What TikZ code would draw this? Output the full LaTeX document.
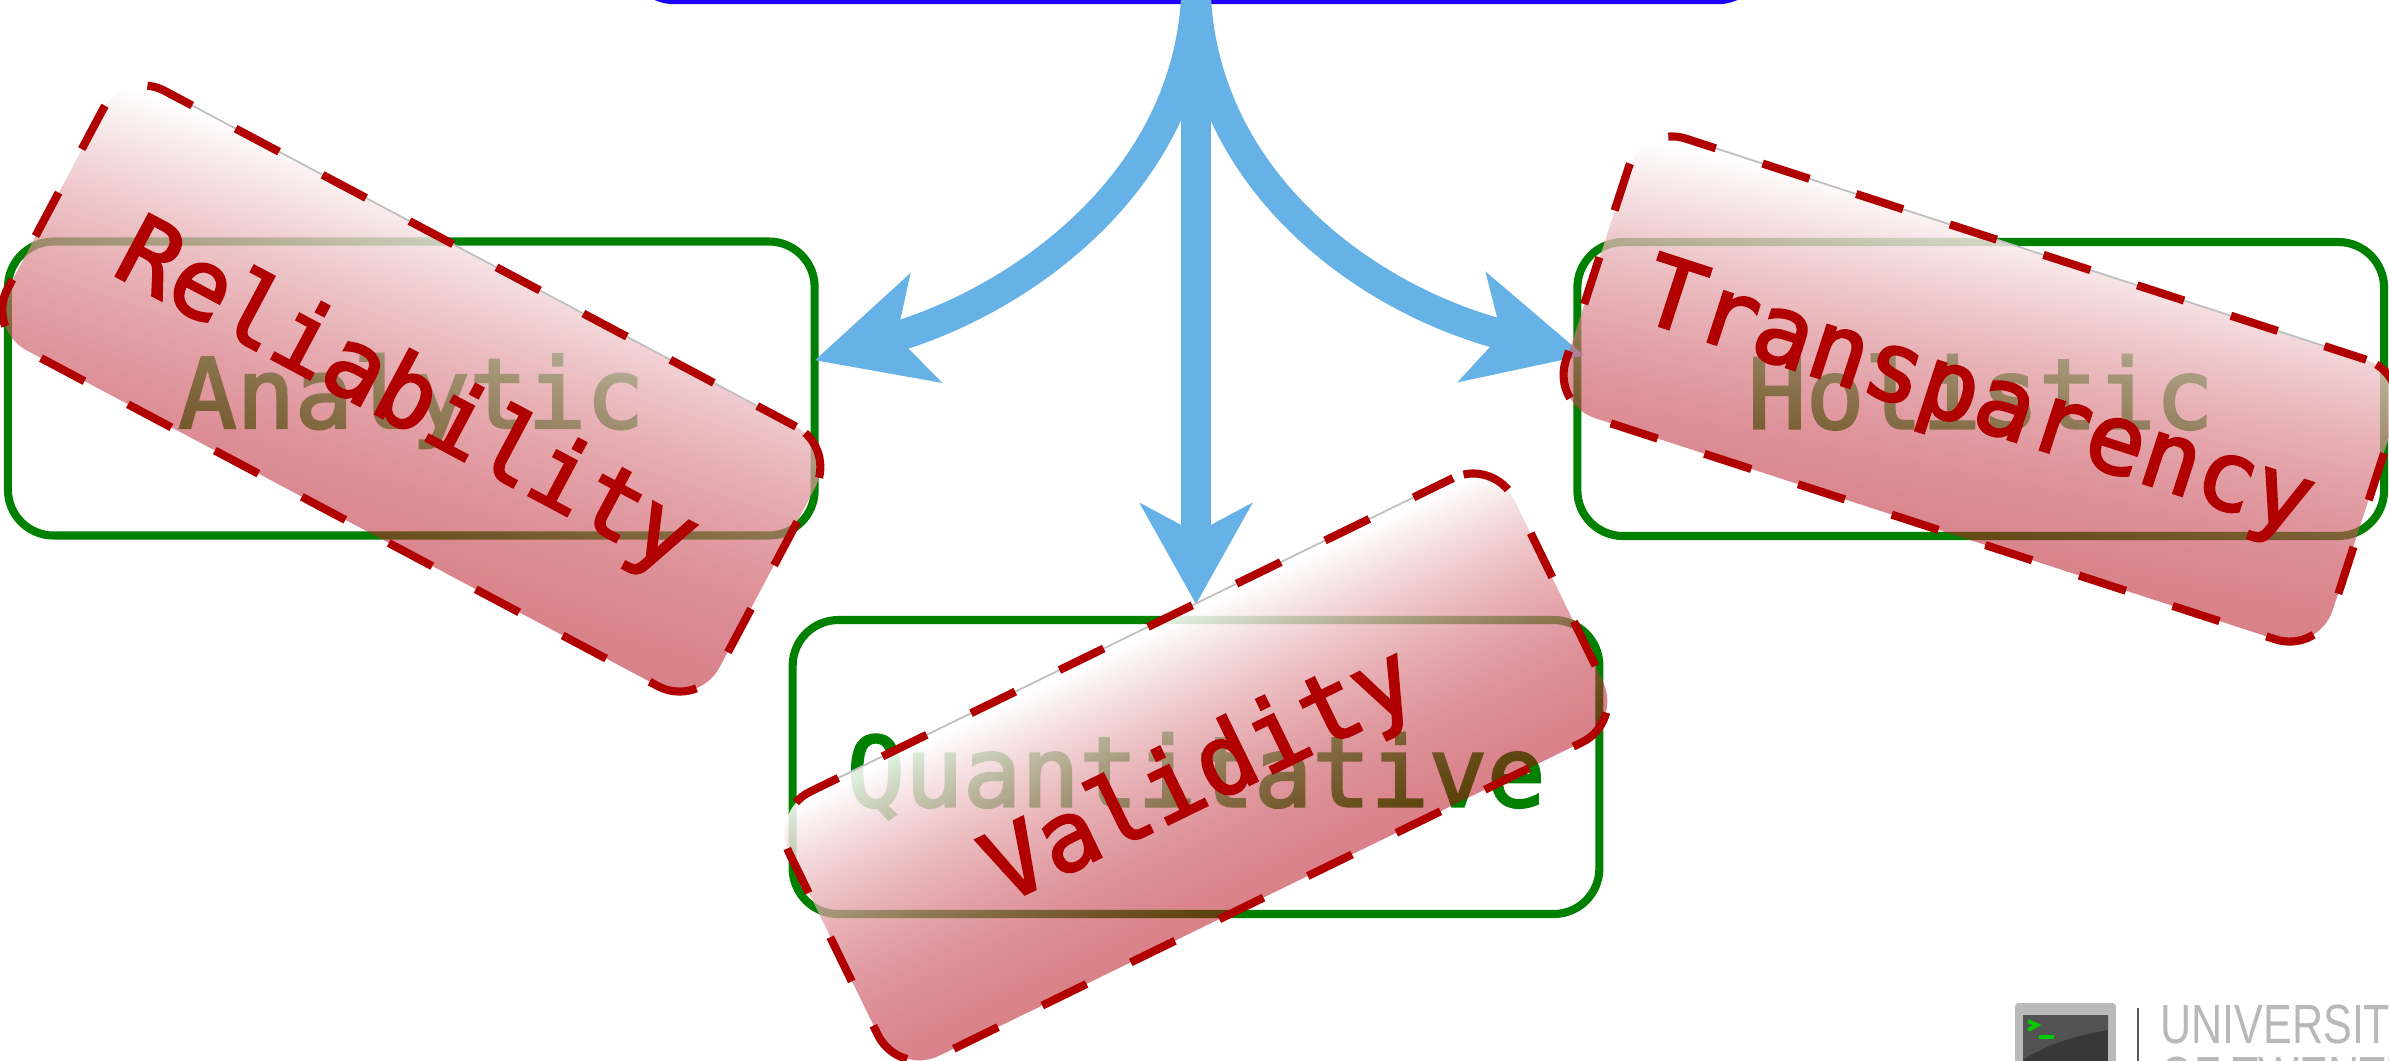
\documentclass[tikz,border=0pt]{standalone}
\usepackage{fontspec}
\setmainfont{DejaVu Sans Mono}[FakeBold=2.6]
\newfontfamily\logofont{Liberation Sans}
\usetikzlibrary{arrows.meta,fadings,calc}
\definecolor{boxgreen}{RGB}{0,128,0}
\definecolor{boxred}{RGB}{176,0,0}
\definecolor{fillred}{RGB}{178,1,17}
\definecolor{flowblue}{RGB}{102,178,230}
\definecolor{srcblue}{RGB}{28,0,255}
% gradient colour and fading for each red box: #1 name, #2 low stop, #3 high stop
\newcommand{\redgradient}[3]{%
  \pgfdeclareverticalshading{#1shade}{100bp}{color(0bp)=(fillred); color(#2bp)=(fillred); color(#3bp)=(white); color(100bp)=(white)}%
  \pgfdeclareverticalshading{#1alpha}{100bp}{color(0bp)=(transparent!50); color(#2bp)=(transparent!50); color(#3bp)=(transparent!12); color(100bp)=(transparent!12)}%
  \pgfdeclarefading{#1fade}{\pgfuseshading{#1alpha}}%
}
\redgradient{rel}{41.5}{58.5}
\redgradient{val}{43.9}{56.1}
\redgradient{tra}{42.3}{57.7}
% #1 name, #2 centre x, #3 centre y, #4 node rotation, #5 shading angle
\newcommand{\redfill}[5]{%
  \begin{scope}
    \clip[rotate around={#4:(#2,#3)}, rounded corners=13pt] (#2-403.1,#3-146.9) rectangle (#2+403.1,#3+146.9);
    \shade[shading=#1shade, shading angle=#5, path fading=#1fade, fading angle=#5] (#2-600,#3-600) rectangle (#2+600,#3+600);
  \end{scope}%
}
\tikzset{
  gbox/.style={draw=boxgreen, line width=2.3pt, rounded corners=13pt, minimum width=229.4pt, minimum height=83.6pt, text=boxgreen, font=\fontsize{27.5}{30}\selectfont, inner sep=0pt, outer sep=0pt, text height=22.4pt, text depth=0pt},
  rbox/.style={gbox, draw=boxred, text=boxred, dash pattern=on 14pt off 14pt, dash phase=1.5pt},
  rbase/.style={minimum width=229.4pt, minimum height=83.6pt, inner sep=0pt, outer sep=0pt},
  flow/.style={draw=flowblue, line width=8.6pt, -{Stealth[length=28.5pt,width=31.5pt,inset=8.25pt]}},
  curveflow/.style={draw=flowblue, line width=8.6pt, -{Stealth[length=32.5pt,width=31.5pt,inset=8.25pt]}},
  edgehint/.style={draw=black!25, line width=0.5pt},
  logotext/.style={text=black!28, font=\logofont\fontsize{15.7}{18}\selectfont, anchor=base west, inner sep=0pt, xscale=.78},
}
\begin{document}
\begin{tikzpicture}[x=0.01cm,y=-0.01cm]
\useasboundingbox (0,0) rectangle (2389,1060);
\clip (0,0) rectangle (2389,1060);
% source box (mostly beyond the top edge)
\node[draw=srcblue, line width=2.3pt, rounded corners=13pt, minimum width=322.6pt, minimum height=85.4pt, inner sep=0pt, outer sep=0pt] (source) at (1196,-150) {};
% green boxes
\node[gbox] (analytic) at (411.3,388.5) {Analytic};
\node[gbox] (quant) at (1196,767) {Quantitative};
\node[gbox] (holistic) at (1980.7,389) {Holistic};
% arrows
\draw[curveflow] (source.south) .. controls (1185,182) and (1023,300) .. (analytic.4.75);
\draw[curveflow,shorten >=-2pt] (source.south) .. controls (1207,182) and (1365,300) .. (holistic.175.7);
\draw[flow,shorten >=4.5pt] (source.south) -- (quant.north);
% red overlays: gradient fill, thin top edge, then dashed outline with text
\redfill{rel}{411.3}{388.5}{-28}{-18}
\redfill{val}{1196}{767}{26}{26}
\redfill{tra}{1980.7}{389}{-18}{-11}
\node[rbase,rotate=-28] (reliabilitybase) at (411.3,388.5) {};
\node[rbase,rotate=26] (validitybase) at (1196,767) {};
\node[rbase,rotate=-18] (transparencybase) at (1980.7,389) {};
\draw[edgehint] ($(reliabilitybase.north west)!.06!(reliabilitybase.north east)$) -- ($(reliabilitybase.north west)!.94!(reliabilitybase.north east)$);
\draw[edgehint] ($(validitybase.north west)!.06!(validitybase.north east)$) -- ($(validitybase.north west)!.94!(validitybase.north east)$);
\draw[edgehint] ($(transparencybase.north west)!.06!(transparencybase.north east)$) -- ($(transparencybase.north west)!.94!(transparencybase.north east)$);
\node[rbox,rotate=-28] (reliability) at (411.3,388.5) {Reliability};
\node[rbox,rotate=26] (validity) at (1196,767) {Validity};
\node[rbox,rotate=-18] (transparency) at (1980.7,389) {Transparency};
% logo
\fill[black!27, rounded corners=1pt] (2015,1003) rectangle (2116,1070);
\fill[black!78] (2023,1015) rectangle (2108,1070);
\fill[black!68] (2023,1015) -- (2108,1015) -- (2108,1030) .. controls (2070,1036) and (2040,1048) .. (2023,1060) -- cycle;
\draw[green!80!black, line width=1.1pt] (2028,1021) -- (2037,1025) -- (2028,1030);
\draw[green!80!black, line width=1.1pt] (2039,1037) -- (2054,1037);
\draw[black!65, line width=0.5pt] (2138,1008) -- (2138,1070);
\node[logotext] (logoa) at (2160,1043) {UNIVERSITY};
\node[logotext] (logob) at (2160,1095) {OF TWENTE};
\end{tikzpicture}
\end{document}
